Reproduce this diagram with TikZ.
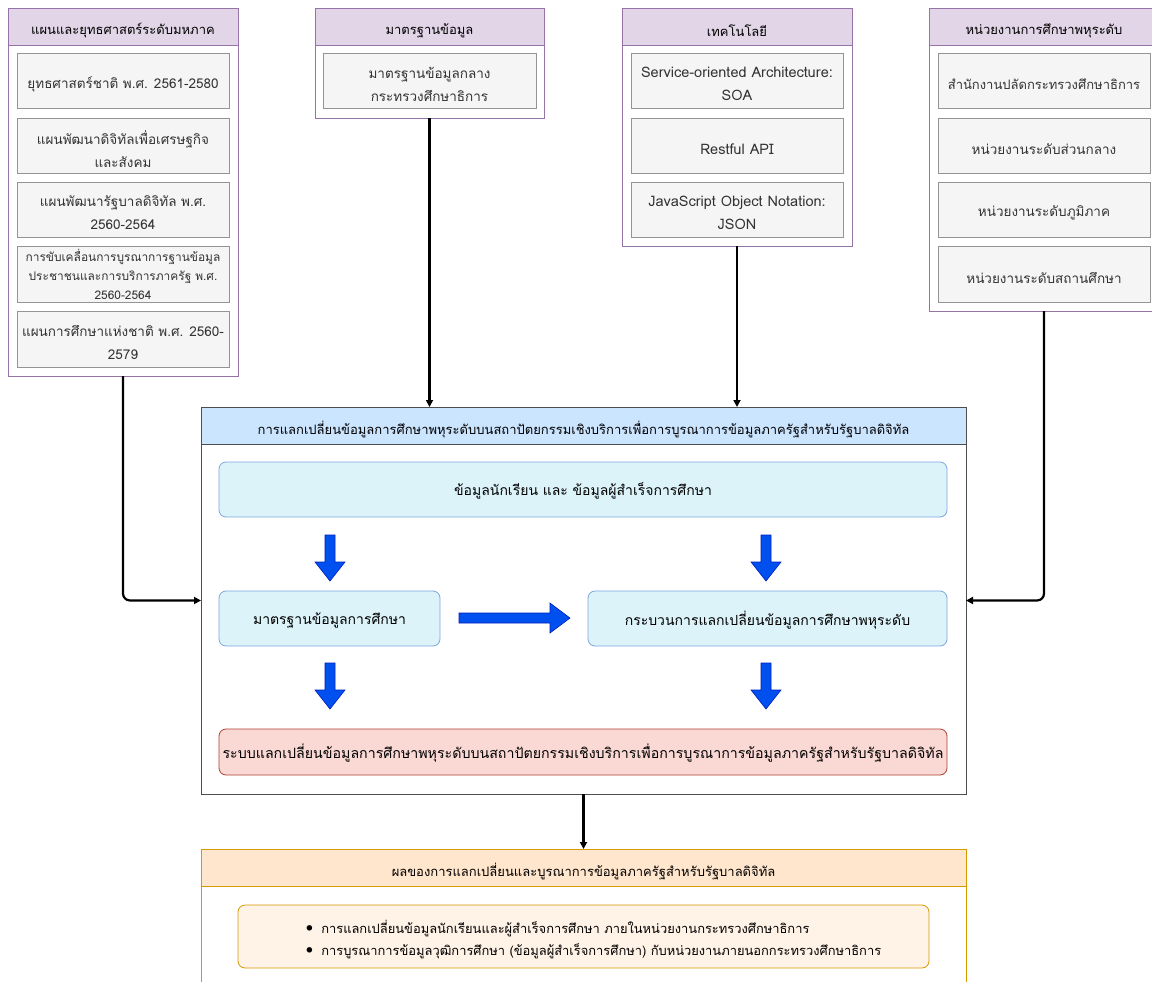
\documentclass[tikz,border=0pt]{standalone}
\usepackage{fontspec}
\setmainfont[Script=Thai]{Loma}
\usetikzlibrary{arrows.meta,fit}
\definecolor{phead}{HTML}{E1D5E7}
\definecolor{pline}{HTML}{9673A6}
\definecolor{gfill}{HTML}{F5F5F5}
\definecolor{gline}{HTML}{666666}
\definecolor{gtext}{HTML}{333333}
\definecolor{bhead}{HTML}{CCE5FF}
\definecolor{cline}{HTML}{4D4D4D}
\definecolor{lbfill}{HTML}{DDF3FA}
\definecolor{lbline}{HTML}{7EA6E0}
\definecolor{rfill}{HTML}{FAD9D5}
\definecolor{rline}{HTML}{AE4132}
\definecolor{ohead}{HTML}{FFE6CC}
\definecolor{oline}{HTML}{D79B00}
\definecolor{ofill}{HTML}{FFF2E6}
\definecolor{barfill}{HTML}{0050EF}
\definecolor{barline}{HTML}{001DBC}
\newcommand\blkdown[3]{\filldraw[barrowst] (#1-5,#2) -- (#1+5,#2) -- (#1+5,#3-19) -- (#1+15,#3-19) -- (#1,#3) -- (#1-15,#3-19) -- (#1-5,#3-19) -- cycle;}
\newcommand\bul{{\fontsize{16}{16}\selectfont\textbullet}\hspace{8pt}}
\tikzset{
  fitbox/.style={inner sep=0pt, outer sep=0pt},
  grp/.style={fitbox, draw=pline, fill=white, line width=0.8pt},
  ghead/.style={fitbox, draw=pline, fill=phead, line width=0.8pt},
  gbox/.style={fitbox, draw=gline!70, fill=gfill, line width=0.8pt},
  cont/.style={fitbox, draw=cline, fill=white, line width=0.8pt},
  chead/.style={fitbox, draw=cline, line width=0.8pt},
  lbbox/.style={fitbox, draw=lbline, fill=lbfill, rounded corners=7pt, line width=0.8pt},
  txt/.style={inner sep=0pt, align=center, yshift=-3.5pt},
  htxt/.style={inner sep=0pt, align=center, yshift=-4pt, font=\fontsize{13}{16}\selectfont},
  gtxt/.style={txt, text=gtext, font=\fontsize{13.5}{23}\selectfont},
  ltxt/.style={txt, text=gtext, font=\fontsize{14.5}{23}\selectfont},
  btxt/.style={inner sep=0pt, align=center, yshift=-1.5pt, font=\fontsize{14}{17}\selectfont},
  conn/.style={line width=2.2pt, -{Triangle[length=7pt,width=7pt]}, rounded corners=7pt},
  barrowst/.style={fill=barfill, draw=barline, line width=0.6pt},
}
\begin{document}
\begin{tikzpicture}[x=1pt,y=-1pt]
\useasboundingbox (0,0) rectangle (1152,982);
% group 1
\node[grp, fit={(8,8)(238,376)}] (g1) {};
\node[ghead, fit={(8,8)(238,45)}] (g1h) {};
\node[htxt] (g1ht) at (g1h) {แผนและยุทธศาสตร์ระดับมหภาค};
\node[gbox, fit={(17,53)(229,108)}] (g1a) {};
\node[gtxt] (g1at) at (g1a) {ยุทธศาสตร์ชาติ พ.ศ. 2561-2580};
\node[gbox, fit={(17,118)(229,173)}] (g1b) {};
\node[gtxt] (g1bt) at (g1b) {แผนพัฒนาดิจิทัลเพื่อเศรษฐกิจ\\และสังคม};
\node[gbox, fit={(17,182)(229,237)}] (g1c) {};
\node[gtxt] (g1ct) at (g1c) {แผนพัฒนารัฐบาลดิจิทัล พ.ศ.\\2560-2564};
\node[gbox, fit={(17,246)(229,302)}] (g1d) {};
\node[gtxt, yshift=3.5pt, font=\fontsize{11.9}{19}\selectfont] (g1dt) at (g1d) {การขับเคลื่อนการบูรณาการฐานข้อมูล\\ประชาชนและการบริการภาครัฐ พ.ศ.\\2560-2564};
\node[gbox, fit={(17,311)(229,367)}] (g1e) {};
\node[gtxt] (g1et) at (g1e) {แผนการศึกษาแห่งชาติ พ.ศ. 2560-\\2579};
% group 2
\node[grp, fit={(315,8)(544,118)}] (g2) {};
\node[ghead, fit={(315,8)(544,45)}] (g2h) {};
\node[htxt] (g2ht) at (g2h) {มาตรฐานข้อมูล};
\node[gbox, fit={(323,53)(536,108)}] (g2a) {};
\node[gtxt] (g2at) at (g2a) {มาตรฐานข้อมูลกลาง\\กระทรวงศึกษาธิการ};
% group 3
\node[grp, fit={(622,8)(852,246)}] (g3) {};
\node[ghead, fit={(622,8)(852,45)}] (g3h) {};
\node[htxt] (g3ht) at (g3h) {เทคโนโลยี};
\node[gbox, fit={(631,53)(843,108)}] (g3a) {};
\node[ltxt] (g3at) at (g3a) {Service-oriented Architecture:\\SOA};
\node[gbox, fit={(631,118)(843,173)}] (g3b) {};
\node[ltxt] (g3bt) at (g3b) {Restful API};
\node[gbox, fit={(631,182)(843,237)}] (g3c) {};
\node[ltxt] (g3ct) at (g3c) {JavaScript Object Notation:\\JSON};
% group 4
\node[grp, fit={(929,8)(1159,311)}] (g4) {};
\node[ghead, fit={(929,8)(1159,45)}] (g4h) {};
\node[htxt] (g4ht) at (g4h) {หน่วยงานการศึกษาพหุระดับ};
\node[gbox, fit={(938,53)(1150,108)}] (g4a) {};
\node[gtxt, font=\fontsize{13}{23}\selectfont] (g4at) at (g4a) {สำนักงานปลัดกระทรวงศึกษาธิการ};
\node[gbox, fit={(938,118)(1150,173)}] (g4b) {};
\node[gtxt] (g4bt) at (g4b) {หน่วยงานระดับส่วนกลาง};
\node[gbox, fit={(938,182)(1150,237)}] (g4c) {};
\node[gtxt] (g4ct) at (g4c) {หน่วยงานระดับภูมิภาค};
\node[gbox, fit={(938,246)(1150,302)}] (g4d) {};
\node[gtxt] (g4dt) at (g4d) {หน่วยงานระดับสถานศึกษา};
% main container
\node[cont, fit={(201,407)(966,794)}] (main) {};
\node[chead, fill=bhead, fit={(201,407)(966,444)}] (mainh) {};
\node[htxt] (mainht) at (mainh) {การแลกเปลี่ยนข้อมูลการศึกษาพหุระดับบนสถาปัตยกรรมเชิงบริการเพื่อการบูรณาการข้อมูลภาครัฐสำหรับรัฐบาลดิจิทัล};
\node[lbbox, fit={(219,462)(947,517)}] (data) {};
\node[btxt] (datat) at (data) {ข้อมูลนักเรียน และ ข้อมูลผู้สำเร็จการศึกษา};
\node[lbbox, fit={(219,591)(440,646)}] (std) {};
\node[btxt] (stdt) at (std) {มาตรฐานข้อมูลการศึกษา};
\node[lbbox, fit={(588,591)(947,646)}] (proc) {};
\node[btxt] (proct) at (proc) {กระบวนการแลกเปลี่ยนข้อมูลการศึกษาพหุระดับ};
\node[lbbox, draw=rline, fill=rfill, fit={(219,729)(947,775)}] (sys) {};
\node[btxt, font=\fontsize{14.2}{17}\selectfont] (syst) at (sys) {ระบบแลกเปลี่ยนข้อมูลการศึกษาพหุระดับบนสถาปัตยกรรมเชิงบริการเพื่อการบูรณาการข้อมูลภาครัฐสำหรับรัฐบาลดิจิทัล};
% block arrows
\blkdown{330}{535}{581}
\blkdown{766}{535}{581}
\blkdown{330}{663}{709}
\blkdown{766}{663}{709}
\filldraw[barrowst] (459,613) -- (550,613) -- (550,603) -- (570,618) -- (550,633) -- (550,623) -- (459,623) -- cycle;
% result container
\node[cont, draw=oline, fit={(201,849)(966,995)}] (res) {};
\node[chead, draw=oline, fill=ohead, fit={(201,849)(966,886)}] (resh) {};
\node[htxt] (resht) at (resh) {ผลของการแลกเปลี่ยนและบูรณาการข้อมูลภาครัฐสำหรับรัฐบาลดิจิทัล};
\node[lbbox, draw=oline, fill=ofill, fit={(238,905)(929,968)}] (resl) {};
\node[txt, align=left, xshift=10pt, yshift=0pt, font=\fontsize{12.9}{22}\selectfont] (reslt) at (resl) {\bul การแลกเปลี่ยนข้อมูลนักเรียนและผู้สำเร็จการศึกษา ภายในหน่วยงานกระทรวงศึกษาธิการ\\\bul การบูรณาการข้อมูลวุฒิการศึกษา (ข้อมูลผู้สำเร็จการศึกษา) กับหน่วยงานภายนอกกระทรวงศึกษาธิการ};
% connectors
\draw[conn] (g2.south) -- (g2.south |- main.north);
\draw[conn] (g3.south) -- (g3.south |- main.north);
\draw[conn] (g1.south) |- (main.west);
\draw[conn] (g4.south) |- (main.east);
\draw[conn] (main.south) -- (res.north);
\end{tikzpicture}
\end{document}
